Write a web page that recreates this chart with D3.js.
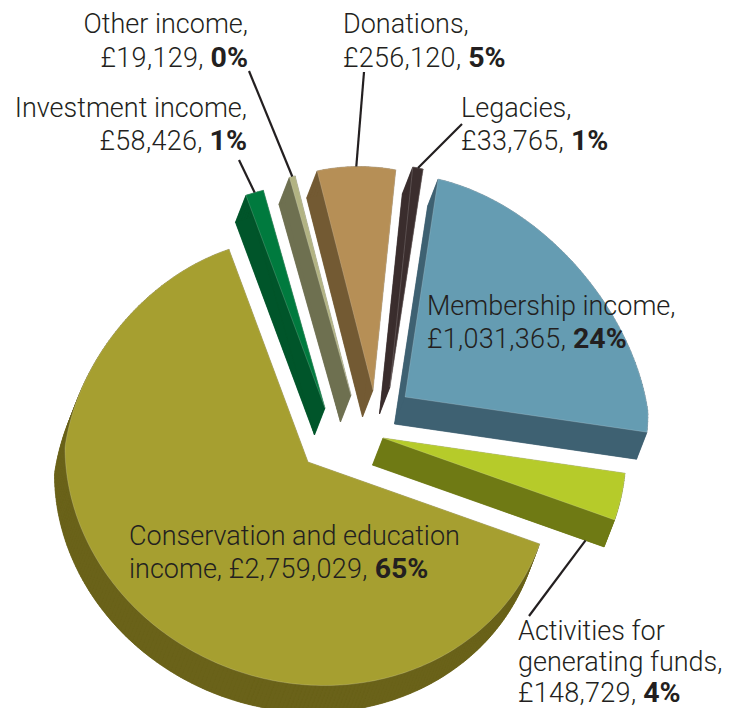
<!DOCTYPE html>
<html>
<head>
<meta charset="utf-8">
<script src="https://cdn.jsdelivr.net/npm/d3@7"></script>
<style>
    html, body { margin: 0; padding: 0; background: #fff; }
    svg { display: block; }
    text { font-family: Roboto, sans-serif; font-weight: 300; font-size: 27px; fill: #231f20; }
    .fig { letter-spacing: 0.3px; }
    .pct { font-weight: 700; font-size: 28.5px; }
</style>
</head>
<body>
<div id="chart"></div>
<script>
// income by source, clockwise from the top
const categories = ["Membership income", "Activities for generating funds", "Conservation and education income",
    "Investment income", "Other income", "Donations", "Legacies"];
const amounts = [1031365, 148729, 2759029, 58426, 19129, 256120, 33765];
const percents = [24, 4, 65, 1, 0, 5, 1];

const topColors = ["#659cb2", "#b6cb2a", "#a69f30", "#007a3e", "#b2b383", "#b68f56", "#3b2e2e"];
const wallColors = ["#3e6172", "#6f7a14", "#6a6219", "#00552a", "#6e7050", "#735a33", "#3a2d2d"];

const width = 740, height = 708;

// how far each slice has been pulled out from the origin of the pie
const origin = [308, 462];
const pulled = [[97, -65], [75, -24], [0, 0], [17, -54], [43, -67], [65, -72], [82, -75]];

// the extrusion runs down and slightly left
const depth = [-10.5, 27];

const rx = 243, ry = 223, tilt = 15, foreshorten = 0.13;

// tilted ellipse, with the far side narrowed a little for perspective
function project(angle) {
    const s = Math.sin(angle), c = Math.cos(angle);
    return [rx * s * (1 - foreshorten * Math.max(0, c)), tilt * s - ry * c];
}

const pie = d3.pie().sort(null)
    .startAngle(9 * Math.PI / 180)
    .endAngle(369 * Math.PI / 180);

const slices = pie(amounts);
const line = d3.line();

function rim(d) {
    const n = Math.max(2, Math.ceil((d.endAngle - d.startAngle) * 60));
    return d3.range(n + 1).map(i => project(d.startAngle + (d.endAngle - d.startAngle) * i / n));
}

const svg = d3.select("#chart").append("svg")
    .attr("width", width)
    .attr("height", height)
    .attr("viewBox", [0, 0, width, height]);

const g = svg.selectAll("g.slice")
    .data(slices)
    .join("g")
    .attr("class", "slice")
    .attr("transform", (d, i) => `translate(${origin[0] + pulled[i][0]},${origin[1] + pulled[i][1]})`);

// walls first: bottom face, then a band swept along the rim and both cut edges
g.each(function(d, i) {
    const el = d3.select(this);
    const pts = rim(d);
    const face = [[0, 0], ...pts];
    const shifted = face.map(p => [p[0] + depth[0], p[1] + depth[1]]);
    const closed = [...face, face[0]];
    const shiftedClosed = [...shifted, shifted[0]];
    el.append("path")
        .attr("d", line(shifted) + "Z")
        .attr("fill", wallColors[i])
        .attr("stroke", wallColors[i])
        .attr("stroke-width", 0.4);
    d3.pairs(d3.range(closed.length)).forEach(([a, b]) => {
        el.append("path")
            .attr("d", line([closed[a], closed[b], shiftedClosed[b], shiftedClosed[a]]) + "Z")
            .attr("fill", wallColors[i])
            .attr("stroke", wallColors[i])
            .attr("stroke-width", 0.4);
    });
    el.append("path")
        .attr("d", line(face) + "Z")
        .attr("fill", topColors[i])
        .attr("stroke", "#fff")
        .attr("stroke-opacity", 0.35)
        .attr("stroke-width", 0.5);
});

// leader lines run from the label to the slice rim, or to the foot of its cut edge
const leaders = [
    {slice: 1, from: [529, 616], along: 0.92},
    {slice: 3, from: [239, 160]},
    {slice: 4, from: [249, 71]},
    {slice: 5, from: [364, 72]},
    {slice: 6, from: [462, 124]}
];

function leaderEnd(d) {
    const s = slices[d.slice];
    const base = [origin[0] + pulled[d.slice][0], origin[1] + pulled[d.slice][1]];
    if (d.along) {
        const p = project(s.endAngle);
        return [base[0] + depth[0] + p[0] * d.along, base[1] + depth[1] + p[1] * d.along];
    }
    const p = project((s.startAngle + s.endAngle) / 2);
    return [base[0] + p[0], base[1] + p[1]];
}

svg.append("g")
    .selectAll("line")
    .data(leaders)
    .join("line")
    .attr("x1", d => d.from[0])
    .attr("y1", d => d.from[1])
    .attr("x2", d => leaderEnd(d)[0])
    .attr("y2", d => leaderEnd(d)[1])
    .attr("stroke", "#231f20")
    .attr("stroke-width", 2.2);

const money = d3.format(",");

// label lines: the figures line is built from the arrays, the wording above it is broken by hand
const labels = [
    {slice: 4, x: 248, anchor: "end", y: [33, 67], lines: ["Other income,"]},
    {slice: 5, x: 343, anchor: "start", y: [33, 67], lines: ["Donations,"]},
    {slice: 3, x: 247, anchor: "end", y: [117, 150], lines: ["Investment income,"]},
    {slice: 6, x: 461, anchor: "start", y: [117, 150], lines: ["Legacies,"]},
    {slice: 0, x: 427, anchor: "start", y: [315, 348], lines: ["Membership income,"]},
    {slice: 2, x: 129, anchor: "start", y: [545, 578], lines: ["Conservation and education", "income, "]},
    {slice: 1, x: 518, anchor: "start", y: [640, 671, 702], lines: ["Activities for", "generating funds,"]}
];

labels.forEach(l => {
    const rows = l.lines.slice();
    const last = rows[rows.length - 1].endsWith(", ") ? rows.pop() : "";
    rows.push(last);
    rows.forEach((row, r) => {
        const t = svg.append("text")
            .attr("x", l.x)
            .attr("y", l.y[r])
            .attr("text-anchor", l.anchor);
        if (r === rows.length - 1) {
            t.append("tspan").text(row);
            t.append("tspan").attr("class", "fig").text(`£${money(amounts[l.slice])}, `);
            t.append("tspan").attr("class", "pct").text(`${percents[l.slice]}%`);
        } else {
            t.text(row);
        }
    });
});
</script>
</body>
</html>
